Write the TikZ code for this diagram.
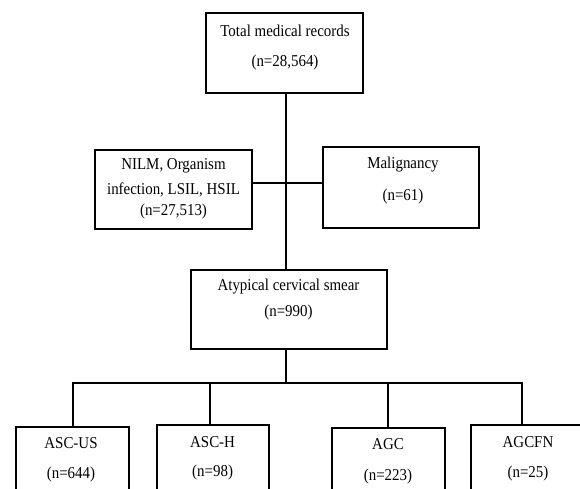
\documentclass[tikz,border=0pt]{standalone}
\usepackage{fontspec}
\setmainfont{Liberation Serif}[FakeStretch=0.9]
\begin{document}
\begin{tikzpicture}[x=1pt,y=-1pt,
  box/.style={draw=black,line width=1.8pt,fill=white},
  txt/.style={inner sep=0pt,font=\fontsize{16.6}{20}\selectfont},
  conn/.style={draw=black,line width=1.8pt}]
\useasboundingbox (0,0) rectangle (580,488);
\clip (0,0) rectangle (580,488);
% boxes
\node[box,minimum width=157pt,minimum height=80pt] (top) at (284.5,53) {};
\node[box,minimum width=157pt,minimum height=79pt] (left) at (173.5,189.5) {};
\node[box,minimum width=156pt,minimum height=81pt] (right) at (401,187.5) {};
\node[box,minimum width=196pt,minimum height=79pt] (atyp) at (289,309.5) {};
\node[box,minimum width=113pt,minimum height=90pt,anchor=north] (ascus) at (72.5,426) {};
\node[box,minimum width=112pt,minimum height=90pt,anchor=north] (asch) at (213,424) {};
\node[box,minimum width=113pt,minimum height=90pt,anchor=north] (agc) at (388.5,427) {};
\node[box,minimum width=114pt,minimum height=90pt,anchor=north] (agcfn) at (528,424) {};
% texts
\node[txt] (t1) at (285,31) {Total medical records};
\node[txt] (t2) at (285,63) {(n=28,564)};
\node[txt] (l1) at (173.5,166) {NILM, Organism};
\node[txt] (l2) at (173.5,190) {infection, LSIL, HSIL};
\node[txt] (l3) at (173.5,212) {(n=27,513)};
\node[txt] (r1) at (403,165) {Malignancy};
\node[txt] (r2) at (403,197) {(n=61)};
\node[txt] (a1) at (288.5,287) {Atypical cervical smear};
\node[txt] (a2) at (288.5,312) {(n=990)};
\node[txt] (b1) at (71,443) {ASC-US};
\node[txt] (b2) at (71,474) {(n=644)};
\node[txt] (c1) at (212.6,442) {ASC-H};
\node[txt] (c2) at (212.6,472) {(n=98)};
\node[txt] (d1) at (388,444) {AGC};
\node[txt] (d2) at (388,476) {(n=223)};
\node[txt] (e1) at (528,442) {AGCFN};
\node[txt] (e2) at (528,473) {(n=25)};
% connectors
\coordinate (h) at (286,183);
\coordinate (bus) at (286,383);
\coordinate (dA) at (73,383);
\coordinate (dB) at (210,383);
\coordinate (dC) at (388,383);
\coordinate (dD) at (522,383);
\draw[conn] (top.south -| h) -- (atyp.north -| h);
\draw[conn] (h -| left.east) -- (h -| right.west);
\draw[conn] (atyp.south -| bus) -- (bus);
\draw[conn] (dA |- ascus.north) -- (dA) -- (dD) -- (dD |- agcfn.north);
\draw[conn] (dB |- asch.north) -- (dB);
\draw[conn] (dC |- agc.north) -- (dC);
\end{tikzpicture}
\end{document}
